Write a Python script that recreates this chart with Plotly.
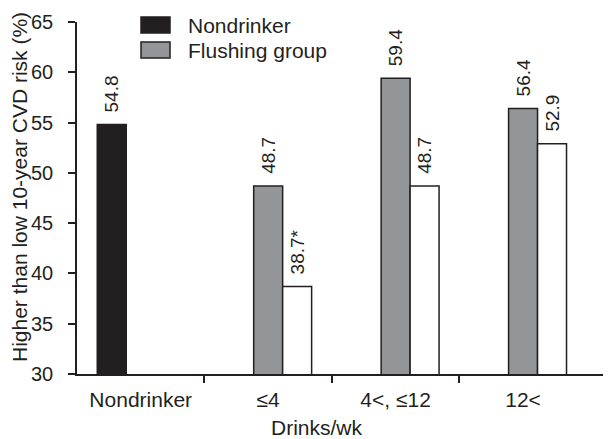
import plotly.graph_objects as go

# ---- data ----
categories = ["Nondrinker", "\u22644", "4<, \u226412", "12<"]
nondrinker_values = [54.8]
flushing_values = [48.7, 59.4, 56.4]
nonflushing_values = [38.7, 48.7, 52.9]
nonflushing_marks = ["*", "", ""]
y_ticks = [30, 35, 40, 45, 50, 55, 60, 65]

INK = "#231f20"
GRAY = "#939598"
FONT = "Liberation Sans, Arial, sans-serif"

# the page body adds an 8px margin; size the figure to fill the rest
OFF = 8
W, H = 611 - OFF, 439 - OFF
L, R, T, B = 77 - OFF, 0, 22 - OFF, 65
pw, ph = W - L - R, H - T - B

def px(x):  # reference-picture pixel -> paper coordinate
    return (x - OFF - L) / pw

def py(y):
    return 1 - (y - OFF - T) / ph

PAD = "\u00a0\u2009"  # small gap between bar top and its label

def labels(values, marks=None):
    marks = marks or [""] * len(values)
    return [PAD + f"{v:.1f}" + m for v, m in zip(values, marks)]

xpos = list(range(len(categories)))

fig = go.Figure()
common = dict(marker_line_color=INK, marker_line_width=1.5,
              textposition="outside", textangle=-90, cliponaxis=False,
              constraintext="none",
              textfont=dict(family=FONT, size=19, color=INK),
              showlegend=False)
fig.add_trace(go.Bar(name="Nondrinker", x=xpos[:1], y=nondrinker_values,
                     marker_color=INK, text=labels(nondrinker_values), **common))
fig.add_trace(go.Bar(name="Flushing group", x=xpos[1:], y=flushing_values,
                     marker_color=GRAY, text=labels(flushing_values), **common))
fig.add_trace(go.Bar(name="Nonflushing group", x=xpos[1:], y=nonflushing_values,
                     marker_color="white",
                     text=labels(nonflushing_values, nonflushing_marks), **common))

fig.update_layout(
    width=W, height=H,
    margin=dict(l=L, r=R, t=T, b=B, autoexpand=False),
    paper_bgcolor="white", plot_bgcolor="white",
    barmode="group", bargap=0.318, bargroupgap=0,
    font=dict(family=FONT, color=INK),
    xaxis=dict(range=[-0.5, 3.69], tickmode="array", tickvals=xpos,
               ticktext=categories, ticks="", showgrid=False, zeroline=False,
               showline=True, linecolor=INK, linewidth=1.5,
               tickfont=dict(family=FONT, size=21, color=INK),
               ticklabelstandoff=6,
               minor=dict(tickmode="array", tickvals=[0.5, 1.5, 2.5],
                          ticks="outside", ticklen=7, tickwidth=1.5,
                          tickcolor=INK, showgrid=False)),
    yaxis=dict(range=[30, 65], tickmode="array", tickvals=y_ticks,
               ticks="outside", ticklen=7, tickwidth=1.5, tickcolor=INK,
               showgrid=False, zeroline=False, showline=True,
               linecolor=INK, linewidth=1.5,
               tickfont=dict(family=FONT, size=20, color=INK),
               ticklabelstandoff=11),
)

# axis titles
fig.add_annotation(text="Drinks/wk", xref="paper", yref="paper",
                   x=px(317), y=py(427), xanchor="center", yanchor="middle",
                   showarrow=False, font=dict(family=FONT, size=21, color=INK))
fig.add_annotation(text="Higher than low 10-year CVD risk (%)",
                   xref="paper", yref="paper", x=px(19), y=py(187),
                   xanchor="center", yanchor="middle",
                   textangle=-90, showarrow=False,
                   font=dict(family=FONT, size=21, color=INK))

# legend (boxes + labels)
legend_items = [("Nondrinker", INK, 17, 33), ("Flushing group", GRAY, 42, 58)]
for label, color, y0, y1 in legend_items:
    fig.add_shape(type="rect", xref="paper", yref="paper",
                  x0=px(141), x1=px(170), y0=py(y1), y1=py(y0),
                  fillcolor=color, line=dict(color=INK, width=1.5))
    fig.add_annotation(text=label, xref="paper", yref="paper",
                       x=px(186), y=py((y0 + y1) / 2), xanchor="left",
                       yanchor="middle", showarrow=False,
                       font=dict(family=FONT, size=21, color=INK))

fig.write_html("out.html")
